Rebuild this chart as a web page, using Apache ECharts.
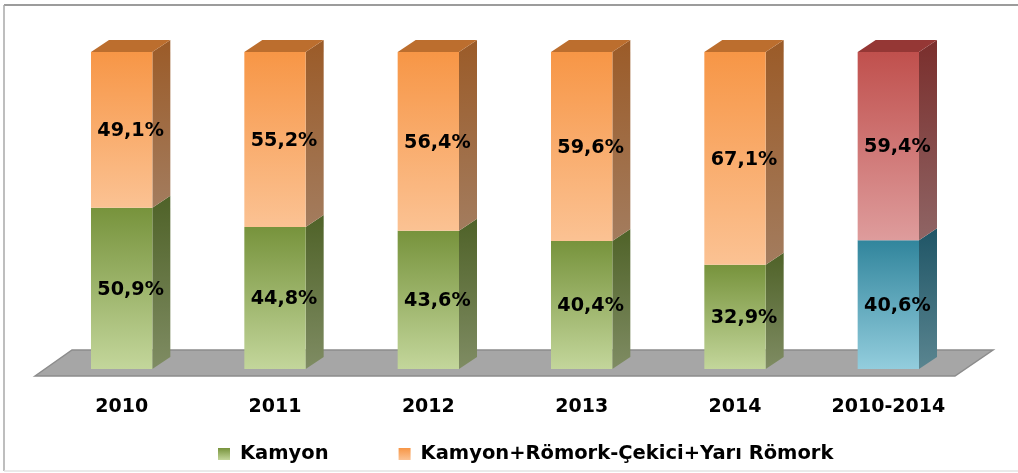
<!DOCTYPE html>
<html>
<head>
<meta charset="utf-8">
<script src="https://cdn.jsdelivr.net/npm/echarts@6/dist/echarts.min.js"></script>
<style>
  html, body { margin: 0; padding: 0; background: #fff; }
  #chart { width: 1018px; height: 473px; }
</style>
</head>
<body>
<div id="chart"></div>
<script>
// veriler
const categories = ['2010', '2011', '2012', '2013', '2014', '2010-2014']
const kamyon = [50.9, 44.8, 43.6, 40.4, 32.9, 40.6]
const cekici = [49.1, 55.2, 56.4, 59.6, 67.1, 59.4]
const seriesNames = ['Kamyon', 'Kamyon+Römork-Çekici+Yarı Römork']

// son sütun (2010-2014) farklı renkte
const highlightIndex = categories.length - 1

// renkler: [ön üst, ön alt, yan üst, yan alt, üst yüz]
const greenColors = ['#77933C', '#C3D69B', '#4F6228', '#7F8C63', '#5F7530']
const orangeColors = ['#F79646', '#FBC293', '#9B5B28', '#A37C5E', '#BC6E2E']
const blueColors = ['#31859C', '#93CDDD', '#1F5566', '#5A8590', '#215868']
const redColors = ['#C0504D', '#DE9C9C', '#7A2E2C', '#8F6565', '#953735']

const depthX = 18
const depthY = 12

const grad = (a, b) => new echarts.graphic.LinearGradient(0, 0, 0, 1, [
  { offset: 0, color: a },
  { offset: 1, color: b }
])

const makeRender = (palette, altPalette, withTop) => (params, api) => {
  const idx = api.value(0)
  const lo = api.value(1)
  const hi = api.value(2)
  const c = idx === highlightIndex ? altPalette : palette
  const pBot = api.coord([idx, lo])
  const pTop = api.coord([idx, hi])
  const w = api.size([1, 0])[0] * 0.4
  const left = pBot[0] - w / 2
  const right = pBot[0] + w / 2
  const yTop = pTop[1]
  const yBot = pBot[1]
  const children = [
    {
      type: 'polygon',
      shape: { points: [[right, yBot], [right, yTop], [right + depthX, yTop - depthY], [right + depthX, yBot - depthY]] },
      style: { fill: grad(c[2], c[3]) }
    },
    {
      type: 'rect',
      shape: { x: left, y: yTop, width: w, height: yBot - yTop },
      style: { fill: grad(c[0], c[1]) }
    }
  ]
  if (withTop) {
    children.push({
      type: 'polygon',
      shape: { points: [[left, yTop], [left + depthX, yTop - depthY], [right + depthX, yTop - depthY], [right, yTop]] },
      style: { fill: c[4] }
    })
  }
  // etiket
  children.push({
    type: 'text',
    x: pBot[0] + depthX / 2,
    y: (yTop + yBot) / 2 + 1,
    scaleX: 0.96,
    style: {
      x: 0,
      y: 0,
      text: (hi - lo).toFixed(1).replace('.', ',') + '%',
      font: 'bold 20px "DejaVu Sans"',
      fill: '#000',
      align: 'center',
      verticalAlign: 'middle'
    }
  })
  return { type: 'group', children }
}

const kamyonData = categories.map((c, i) => [i, 0, kamyon[i]])
const cekiciData = categories.map((c, i) => [i, kamyon[i], kamyon[i] + cekici[i]])

const chart = echarts.init(document.getElementById('chart'))

const option = {
  animation: false,
  grid: { left: 45, right: 53, top: 52, bottom: 104 },
  xAxis: {
    type: 'category',
    data: categories,
    axisLine: { show: false },
    axisTick: { show: false },
    axisLabel: {
      margin: 29,
      color: '#000',
      fontFamily: 'DejaVu Sans',
      fontWeight: 'bold',
      fontSize: 19
    }
  },
  yAxis: { type: 'value', min: 0, max: 100, show: false },
  legend: {
    data: seriesNames,
    left: 213,
    top: 439,
    icon: 'rect',
    itemWidth: 12,
    itemHeight: 12,
    itemGap: 70,
    textStyle: {
      color: '#000',
      fontFamily: 'DejaVu Sans',
      fontWeight: 'bold',
      fontSize: 19.5,
      padding: [0, 0, 0, 5]
    }
  },
  graphic: [
    // çerçeve: üst, sol, alt
    {
      type: 'line',
      z: 0,
      shape: { x1: 4, y1: 5, x2: 1018, y2: 5 },
      style: { stroke: '#9C9C9C', lineWidth: 2 }
    },
    {
      type: 'line',
      z: 0,
      shape: { x1: 4, y1: 5, x2: 4, y2: 471 },
      style: { stroke: '#A9A9A9', lineWidth: 1.5 }
    },
    {
      type: 'line',
      z: 0,
      shape: { x1: 4, y1: 471, x2: 1018, y2: 471 },
      style: { stroke: '#E3E3E3', lineWidth: 1.5 }
    },
    // zemin
    {
      type: 'polygon',
      z: 0,
      shape: { points: [[35, 376], [72, 350], [993, 350], [955, 376]] },
      style: { fill: '#A6A6A6', stroke: '#8C8C8C', lineWidth: 1.5 }
    }
  ],
  series: [
    {
      name: seriesNames[0],
      type: 'custom',
      z: 3,
      itemStyle: { color: grad(greenColors[0], greenColors[1]) },
      encode: { x: 0, y: [1, 2] },
      renderItem: makeRender(greenColors, blueColors, false),
      data: kamyonData
    },
    {
      name: seriesNames[1],
      type: 'custom',
      z: 4,
      itemStyle: { color: grad(orangeColors[0], orangeColors[1]) },
      encode: { x: 0, y: [1, 2] },
      renderItem: makeRender(orangeColors, redColors, true),
      data: cekiciData
    }
  ]
}

chart.setOption(option)
</script>
</body>
</html>
